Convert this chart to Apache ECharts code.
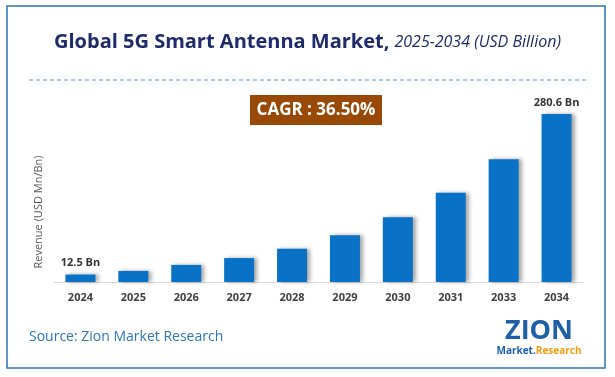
<!DOCTYPE html>
<html lang="en">
<head>
  <meta charset="UTF-8">
  <title>Global 5G Smart Antenna Market</title>
  <style>
    body { margin: 0; background: #ffffff; }
    #chart { width: 615px; height: 377px; }
  </style>
  <script src="https://cdn.jsdelivr.net/npm/echarts@6/dist/echarts.min.js"></script>
</head>
<body>
  <div id="chart"></div>
  <script>
    // data
    var years = ['2024', '2025', '2026', '2027', '2028', '2029', '2030', '2031', '2033', '2034'];
    var revenue = [12.5, 18.5, 28.5, 40, 55.5, 78, 108, 149, 205, 280.6];
    var labelledIdx = [0, revenue.length - 1];

    var font = '"Open Sans", "Noto Sans", sans-serif';

    var barData = revenue.map(function (v, i) {
      return {
        value: v,
        label: { show: labelledIdx.indexOf(i) >= 0 }
      };
    });

    var chart = echarts.init(document.getElementById('chart'));
    chart.setOption({
      animation: false,
      title: {
        left: 'center',
        top: 27,
        text: '{a|Global 5G Smart Antenna Market,} {b|2025-2034 (USD Billion)}',
        textStyle: {
          fontWeight: 'normal',
          rich: {
            a: { fontFamily: font, fontSize: 20, fontWeight: 'bold', color: '#1f2a6b' },
            b: { fontFamily: font, fontSize: 16, fontStyle: 'italic', fontWeight: 'normal', color: '#1f2a6b' }
          }
        }
      },
      grid: { left: 54, right: 32, top: 114, bottom: 95 },
      xAxis: {
        type: 'category',
        data: years,
        axisLine: { lineStyle: { color: '#d9d9d9', width: 1 } },
        axisTick: { show: false },
        axisLabel: { color: '#404040', fontFamily: font, fontSize: 11, fontWeight: 'bold', margin: 10 }
      },
      yAxis: {
        type: 'value',
        min: 0,
        max: 280.6,
        show: false,
        splitLine: { show: false }
      },
      series: [{
        type: 'bar',
        data: barData,
        barWidth: 30,
        itemStyle: {
          color: '#0a72c6',
          shadowColor: 'rgba(0,0,0,0.35)',
          shadowBlur: 4,
          shadowOffsetX: 3
        },
        label: {
          position: 'top',
          distance: 6,
          formatter: '{c} Bn',
          color: '#333333',
          fontFamily: font,
          fontSize: 11,
          fontWeight: 'bold'
        }
      }],
      graphic: [
        {
          type: 'rect',
          shape: { x: 7, y: 6, width: 598, height: 362 },
          style: { fill: 'none', stroke: '#2e75b6', lineWidth: 1.5 }
        },
        {
          type: 'line',
          shape: { x1: 29, y1: 80, x2: 586, y2: 80 },
          style: { stroke: '#5b8fd0', lineWidth: 1, lineDash: [4, 3] }
        },
        {
          type: 'rect',
          shape: { x: 250, y: 95, width: 132, height: 30 },
          style: { fill: '#984807' }
        },
        {
          type: 'text',
          x: 316, y: 110,
          style: {
            text: 'CAGR : 36.50%', fill: '#ffffff', font: 'bold 17px ' + font,
            textAlign: 'center', textVerticalAlign: 'middle'
          }
        },
        {
          type: 'text',
          x: 39, y: 212, rotation: Math.PI / 2,
          style: {
            text: 'Revenue (USD Mn/Bn)', fill: '#595959', font: '11px ' + font,
            textAlign: 'center', textVerticalAlign: 'middle'
          }
        },
        {
          type: 'text',
          x: 29, y: 337,
          style: {
            text: 'Source: Zion Market Research', fill: '#2e75b6', font: '14px ' + font,
            textVerticalAlign: 'middle'
          }
        },
        {
          type: 'text',
          x: 539, y: 331,
          style: {
            text: 'ZION', fill: '#1e5fa8', font: 'bold 27px ' + font,
            textAlign: 'center', textVerticalAlign: 'middle'
          }
        },
        {
          type: 'text',
          x: 539, y: 351,
          style: {
            text: '{m|Market.}{r|Research}', textAlign: 'center', textVerticalAlign: 'middle',
            rich: {
              m: { fill: '#1e5fa8', font: 'bold 10px ' + font },
              r: { fill: '#f39c12', font: 'bold 10px ' + font }
            }
          }
        }
      ]
    });
  </script>
</body>
</html>
